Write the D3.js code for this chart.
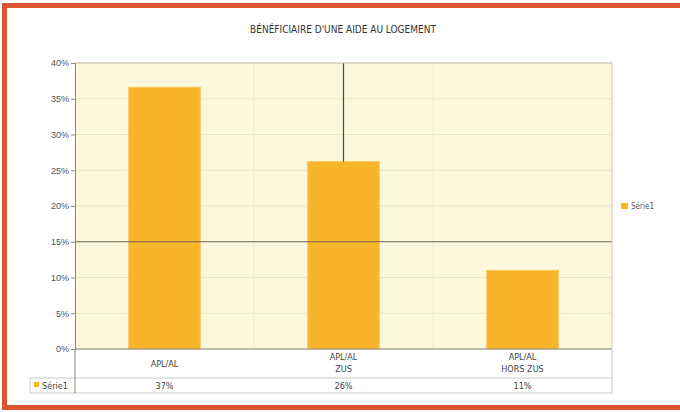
<!DOCTYPE html>
<html>
<head>
<meta charset="utf-8">
<script src="https://cdn.jsdelivr.net/npm/d3@7"></script>
<style>
	body { margin: 0; background: #fff; }
	svg { display: block; font-family: "Liberation Sans Narrow", "DejaVu Sans Condensed", sans-serif; }
</style>
</head>
<body>
<svg id="chart" width="680" height="412"></svg>
<script>
// data
var categories = [["APL/AL"], ["APL/AL", "ZUS"], ["APL/AL", "HORS ZUS"]];
var values = [0.366, 0.262, 0.11];
var seriesName = "Série1";
var yTicks = [0, 0.05, 0.10, 0.15, 0.20, 0.25, 0.30, 0.35, 0.40];
var title = "BÉNÉFICIAIRE D'UNE AIDE AU LOGEMENT";

var svg = d3.select("#chart"),
	width = +svg.attr("width"),
	height = +svg.attr("height"),
	margin = { top: 63, left: 75, right: 68, bottom: 63 };

var x = d3.scaleBand()
	.domain(d3.range(values.length))
	.range([margin.left, width - margin.right])
	.paddingInner(0.6)
	.paddingOuter(0.3);

var xCells = d3.scaleBand()
	.domain(d3.range(values.length))
	.range([margin.left, width - margin.right]);

var y = d3.scaleLinear()
	.domain([0, 0.4])
	.range([height - margin.bottom, margin.top]);

// orange frame (top, left, bottom)
var frame = svg.append("g").attr("fill", "#db5430");
frame.append("rect").attr("x", 2).attr("y", 3).attr("width", width - 2).attr("height", 5);
frame.append("rect").attr("x", 2).attr("y", 3).attr("width", 5).attr("height", 407);
frame.append("rect").attr("x", 2).attr("y", 405).attr("width", width - 2).attr("height", 5);

// title
svg.append("text")
	.attr("x", 343).attr("y", 33)
	.attr("text-anchor", "middle")
	.attr("font-size", 10)
	.attr("fill", "#333")
	.text(title);

// plot background
svg.append("rect")
	.attr("x", margin.left).attr("y", margin.top)
	.attr("width", width - margin.left - margin.right)
	.attr("height", y(0) - margin.top)
	.attr("fill", "#fbf8dc");

// faint grid
svg.append("g").selectAll("line")
	.data(yTicks.filter(function(d) { return d != 0.15; }))
	.enter().append("line")
	.attr("x1", margin.left).attr("x2", width - margin.right)
	.attr("y1", function(d) { return y(d); })
	.attr("y2", function(d) { return y(d); })
	.attr("stroke", "#ebe6c4")
	.attr("stroke-width", 1);

svg.append("g").selectAll("line")
	.data(d3.range(1, values.length))
	.enter().append("line")
	.attr("x1", function(d) { return xCells(d); })
	.attr("x2", function(d) { return xCells(d); })
	.attr("y1", margin.top).attr("y2", y(0))
	.attr("stroke", "#f0ecd0");

// bars
svg.append("g").selectAll("rect")
	.data(values)
	.enter().append("rect")
	.attr("x", function(d, i) { return x(i); })
	.attr("y", function(d) { return y(d); })
	.attr("width", x.bandwidth())
	.attr("height", function(d) { return y(0) - y(d); })
	.attr("fill", "#f9b52a")
	.attr("stroke", "#fcc85a")
	.attr("stroke-width", 1);

// dark 15% line and vertical line above middle bar
svg.append("line")
	.attr("x1", margin.left).attr("x2", width - margin.right)
	.attr("y1", y(0.15)).attr("y2", y(0.15))
	.attr("stroke", "#6b6450").attr("stroke-width", 1);

svg.append("line")
	.attr("x1", x(1) + x.bandwidth() / 2).attr("x2", x(1) + x.bandwidth() / 2)
	.attr("y1", margin.top).attr("y2", y(values[1]))
	.attr("stroke", "#4e4838").attr("stroke-width", 1.2);

// top border of plot
svg.append("line")
	.attr("x1", margin.left).attr("x2", width - margin.right)
	.attr("y1", margin.top).attr("y2", margin.top)
	.attr("stroke", "#c8c4b0");

// y axis
var yAxis = d3.axisLeft(y)
	.tickValues(yTicks)
	.tickFormat(d3.format(".0%"))
	.tickSize(4);
var gy = svg.append("g")
	.attr("transform", "translate(" + margin.left + ",0)")
	.call(yAxis);
gy.select(".domain").attr("stroke", "#8a8678");
gy.selectAll(".tick line").attr("stroke", "#8a8678");
gy.selectAll(".tick text")
	.attr("font-size", 9)
	.attr("fill", "#555")
	.attr("font-family", "inherit")
	.attr("x", -6);

// data table under the plot
var rowTop = y(0), rowMid = 378, rowBot = 393;
var table = svg.append("g").attr("stroke", "#c9c9c9").attr("fill", "none");
table.append("line").attr("x1", margin.left).attr("x2", width - margin.right).attr("y1", rowTop).attr("y2", rowTop).attr("stroke", "#8a8678");
table.append("line").attr("x1", 30).attr("x2", width - margin.right).attr("y1", rowMid).attr("y2", rowMid);
table.append("line").attr("x1", 30).attr("x2", width - margin.right).attr("y1", rowBot).attr("y2", rowBot);
table.append("line").attr("x1", 30).attr("x2", 30).attr("y1", rowMid).attr("y2", rowBot);
table.append("line").attr("x1", margin.left).attr("x2", margin.left).attr("y1", rowTop).attr("y2", rowBot).attr("stroke", "#8a8678");
table.append("line").attr("x1", width - margin.right).attr("x2", width - margin.right).attr("y1", margin.top).attr("y2", rowBot);

var catText = svg.append("g").selectAll("text")
	.data(categories)
	.enter().append("text")
	.attr("text-anchor", "middle")
	.attr("font-size", 9)
	.attr("fill", "#444")
	.attr("x", function(d, i) { return xCells(i) + xCells.bandwidth() / 2; })
	.attr("y", function(d) { return d.length == 1 ? 367 : 360; });
catText.selectAll("tspan")
	.data(function(d, i) { return d.map(function(s) { return { s: s, i: i }; }); })
	.enter().append("tspan")
	.attr("x", function(d) { return xCells(d.i) + xCells.bandwidth() / 2; })
	.attr("dy", function(d, j) { return j == 0 ? 0 : 12; })
	.text(function(d) { return d.s; });

svg.append("g").selectAll("text")
	.data(values)
	.enter().append("text")
	.attr("text-anchor", "middle")
	.attr("font-size", 9)
	.attr("fill", "#444")
	.attr("x", function(d, i) { return xCells(i) + xCells.bandwidth() / 2; })
	.attr("y", 389)
	.text(d3.format(".0%"));

// series key in the table
svg.append("rect").attr("x", 34).attr("y", 382).attr("width", 5).attr("height", 5).attr("fill", "#f9b52a");
svg.append("text").attr("x", 42).attr("y", 389).attr("font-size", 9).attr("fill", "#444").text(seriesName);

// legend on the right
svg.append("rect").attr("x", 621).attr("y", 203).attr("width", 7).attr("height", 6).attr("fill", "#f9b52a");
svg.append("text").attr("x", 631).attr("y", 209).attr("font-size", 8).attr("fill", "#555").text(seriesName);
</script>
</body>
</html>
